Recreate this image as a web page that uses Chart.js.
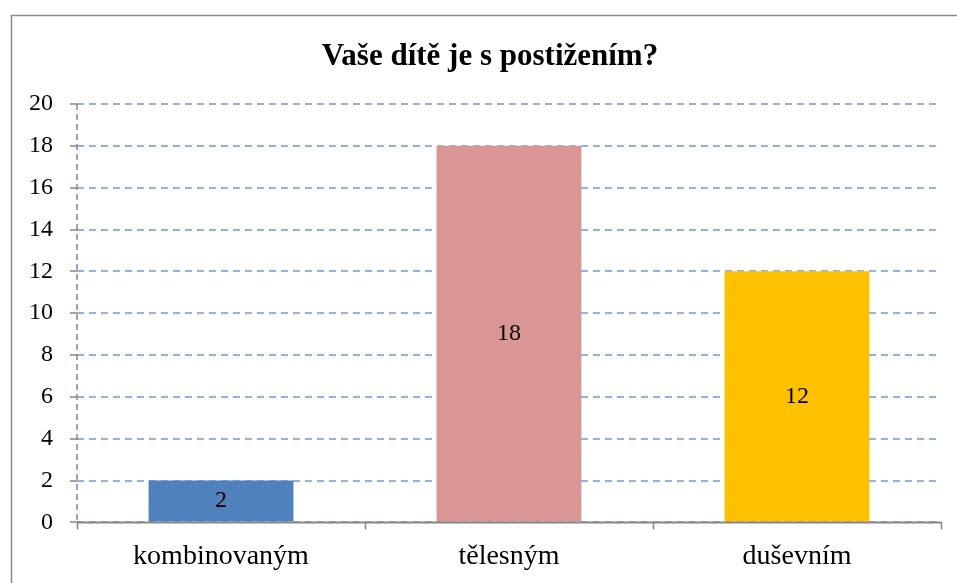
<!DOCTYPE html>
<html>
<head>
<meta charset="utf-8">
<script src="https://cdn.jsdelivr.net/npm/chart.js@4/dist/chart.umd.min.js"></script>
<style>
html,body{margin:0;padding:0;background:#fff;}
#wrap{position:relative;width:957px;height:583px;}
</style>
</head>
<body>
<div id="wrap"><canvas id="c" width="957" height="583"></canvas></div>
<script>
const titleText = 'Vaše dítě je s postižením?';
const categories = ['kombinovaným', 'tělesným', 'duševním'];
const values = [2, 18, 12];
const barColors = ['#4F81BD', '#D99694', '#FFC000'];
const yTicks = [0, 2, 4, 6, 8, 10, 12, 14, 16, 18, 20];

const AXIS_GRAY = '#868686';
const GRID_BLUE = '#8EB4E3';
const SERIF = '"Liberation Serif", "Times New Roman", serif';

const framePlugin = {
  id: 'frame',
  beforeDraw(chart) {
    const ctx = chart.ctx;
    ctx.save();
    ctx.strokeStyle = '#8a8a8a';
    ctx.lineWidth = 1.5;
    ctx.strokeRect(11.5, 15.5, 1200, 1200);
    ctx.restore();
  }
};

const titlePlugin = {
  id: 'titleText',
  afterDraw(chart) {
    const ctx = chart.ctx;
    ctx.save();
    ctx.fillStyle = '#000';
    ctx.font = 'bold 31px ' + SERIF;
    ctx.textAlign = 'center';
    ctx.textBaseline = 'alphabetic';
    ctx.fillText(titleText, 490, 65);
    ctx.restore();
  }
};

const axesPlugin = {
  id: 'axesLines',
  afterDatasetsDraw(chart) {
    const ctx = chart.ctx;
    const a = chart.chartArea;
    ctx.save();
    ctx.strokeStyle = AXIS_GRAY;
    ctx.lineWidth = 1.5;
    ctx.setLineDash([6, 4]);
    ctx.beginPath();
    ctx.moveTo(a.left, a.top);
    ctx.lineTo(a.left, a.bottom);
    ctx.stroke();
    ctx.setLineDash([]);
    ctx.lineWidth = 2;
    ctx.beginPath();
    ctx.moveTo(a.left, a.bottom);
    ctx.lineTo(a.right, a.bottom);
    ctx.stroke();
    ctx.restore();
  }
};

const labelPlugin = {
  id: 'barLabels',
  afterDatasetsDraw(chart) {
    const ctx = chart.ctx;
    const meta = chart.getDatasetMeta(0);
    ctx.save();
    ctx.fillStyle = '#000';
    ctx.font = '24px ' + SERIF;
    ctx.textAlign = 'center';
    ctx.textBaseline = 'middle';
    meta.data.forEach((bar, i) => {
      const y = (bar.y + bar.base) / 2;
      ctx.fillText(String(values[i]), bar.x, y);
    });
    ctx.restore();
  }
};

new Chart(document.getElementById('c'), {
  type: 'bar',
  data: {
    labels: categories,
    datasets: [{
      data: values,
      backgroundColor: barColors,
      borderWidth: 0,
      categoryPercentage: 1,
      barPercentage: 0.503
    }]
  },
  options: {
    responsive: false,
    animation: false,
    layout: { padding: { left: 20, right: 16, top: 104, bottom: 0 } },
    plugins: {
      legend: { display: false },
      tooltip: { enabled: false },
      title: { display: false }
    },
    scales: {
      x: {
        offset: true,
        grid: {
          display: true,
          drawOnChartArea: false,
          drawTicks: true,
          tickLength: 7,
          tickColor: AXIS_GRAY,
          tickWidth: 1.5,
          offset: true
        },
        border: { display: false },
        ticks: {
          color: '#000',
          font: { family: SERIF, size: 28 },
          padding: 10,
          maxRotation: 0
        }
      },
      y: {
        min: 0,
        max: 20,
        afterFit(scale) { scale.width = 57; },
        afterBuildTicks(scale) { scale.ticks = yTicks.map(v => ({ value: v })); },
        grid: {
          color: GRID_BLUE,
          lineWidth: 2,
          drawTicks: true,
          tickLength: 7,
          tickColor: AXIS_GRAY,
          tickWidth: 1.5,
          tickBorderDash: [1, 0]
        },
        border: { display: false, dash: [7, 5] },
        ticks: {
          color: '#000',
          font: { family: SERIF, size: 24 },
          padding: 17
        }
      }
    }
  },
  plugins: [framePlugin, axesPlugin, labelPlugin, titlePlugin]
});
</script>
</body>
</html>
